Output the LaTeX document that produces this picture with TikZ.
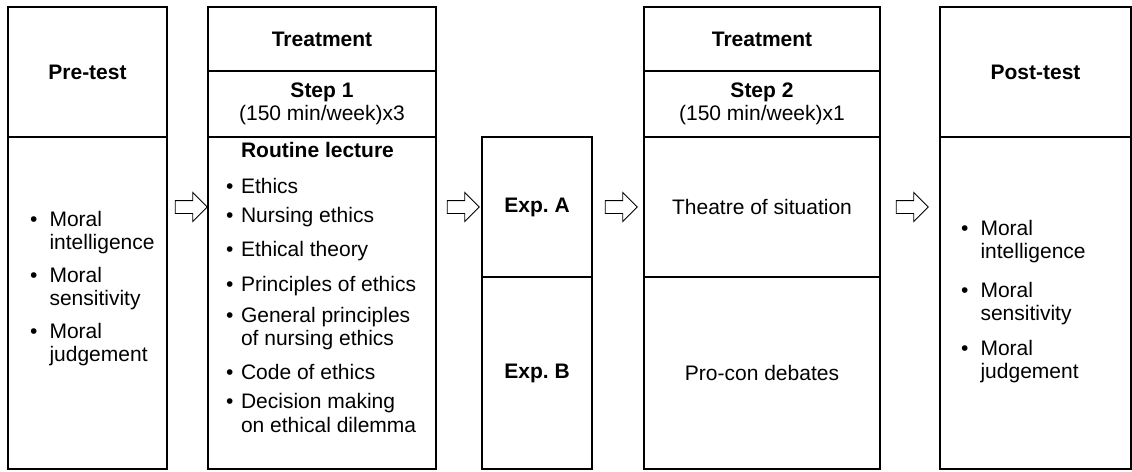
\documentclass[tikz,border=0pt]{standalone}
\usepackage{fontspec}
\setmainfont{Liberation Sans}
\usetikzlibrary{shapes.arrows, positioning}
\tikzset{
    cell/.style={draw, line width=1.1pt, rectangle, inner sep=0pt, align=center},
    flowarrow/.style={draw, line width=0.9pt, single arrow, single arrow head extend=8pt,
        inner xsep=0pt, inner ysep=6pt, minimum height=32pt},
    bullets/.style={inner sep=0pt, anchor=base west},
}
\newcommand{\bl}{\textbullet}

\begin{document}
\begin{tikzpicture}[x=1pt, y=-1pt, every node/.style={font=\fontsize{21}{23.5}\selectfont}]
    \useasboundingbox (0,0) rectangle (1132,471);
    % pre-test
    \node[cell, minimum width=159, minimum height=130] (prehead) at (87.5,72) {\textbf{Pre-test}};
    \node[cell, minimum width=159, minimum height=332] (prebody) at (87.5,303) {};
    % treatment, step 1
    \node[cell, minimum width=228, minimum height=64] (treat1) at (322,39) {\textbf{Treatment}};
    \node[cell, minimum width=228, minimum height=66] (step1) at (322,104) {\textbf{Step 1}\\(150 min/week)x3};
    \node[cell, minimum width=228, minimum height=332] (routine) at (322,303) {};
    % groups
    \node[cell, minimum width=110, minimum height=140] (expa) at (537,207) {\textbf{Exp.\ A}};
    \node[cell, minimum width=110, minimum height=192] (expb) at (537,373) {\textbf{Exp.\ B}};
    % treatment, step 2
    \node[cell, minimum width=236, minimum height=64] (treat2) at (762,39) {\textbf{Treatment}};
    \node[cell, minimum width=236, minimum height=66] (step2) at (762,104) {\textbf{Step 2}\\(150 min/week)x1};
    \node[cell, minimum width=236, minimum height=140] (theatre) at (762,207) {Theatre of situation};
    \node[cell, minimum width=236, minimum height=192] (procon) at (762,373) {Pro-con debates};
    % post-test
    \node[cell, minimum width=191, minimum height=130] (posthead) at (1035.5,72) {\textbf{Post-test}};
    \node[cell, minimum width=191, minimum height=332] (postbody) at (1035.5,303) {};
    % lists
    \node[bullets] (prelist) at (30,226) {\begin{tabular}[t]{@{}l@{\hspace{12pt}}l@{}}
        \bl & Moral\\ & intelligence\\[9pt]
        \bl & Moral\\ & sensitivity\\[9pt]
        \bl & Moral\\ & judgement
    \end{tabular}};
    \node[anchor=base] (routinetitle) at (317.5,157) {\textbf{Routine lecture}};
    \node[bullets] (routinelist) at (226,193) {\begin{tabular}[t]{@{}l@{\hspace{7.5pt}}l@{}}
        \bl & Ethics\\[6pt]
        \bl & Nursing ethics\\[10pt]
        \bl & Ethical theory\\[12pt]
        \bl & Principles of ethics\\[7pt]
        \bl & General principles\\ & of nursing ethics\\[10pt]
        \bl & Code of ethics\\[6pt]
        \bl & Decision making\\ & on ethical dilemma
    \end{tabular}};
    \node[bullets] (postlist) at (961,235) {\begin{tabular}[t]{@{}l@{\hspace{12pt}}l@{}}
        \bl & Moral\\ & intelligence\\[15pt]
        \bl & Moral\\ & sensitivity\\[11pt]
        \bl & Moral\\ & judgement
    \end{tabular}};
    % arrows
    \node[flowarrow] (ar1) at (188,207) {};
    \node[flowarrow] (ar2) at (460,207) {};
    \node[flowarrow] (ar3) at (618,207) {};
    \node[flowarrow] (ar4) at (909,207) {};
\end{tikzpicture}
\end{document}
